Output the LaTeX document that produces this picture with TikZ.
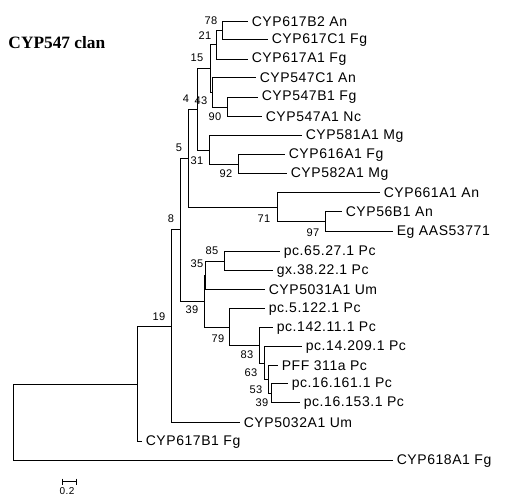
\documentclass[tikz,border=0pt]{standalone}
\usepackage{fontspec}
\setmainfont{Liberation Sans}
\newfontfamily\titlefont{Liberation Serif}
\newfontfamily\leaffam[LetterSpace=4]{Liberation Sans}
\begin{document}
\begin{tikzpicture}[x=0.75pt,y=-0.75pt,line width=0.75pt,
  leaf/.style={anchor=west,inner sep=0pt,xshift=2.5pt,font={\leaffam\fontsize{10.5}{12}\selectfont}},
  boot/.style={inner sep=0pt,font={\leaffam\fontsize{8.3}{10}\selectfont}},
  branch/.style={draw=black,line width=0.75pt}]
\useasboundingbox (0,0) rectangle (508,502);
% title
\node[anchor=base west,inner sep=0pt,font={\titlefont\bfseries\fontsize{13}{15}\selectfont}] (title) at (8,49) {CYP547 clan};
% internal nodes
\coordinate (A) at (222,30.85);
\coordinate (B) at (216,45);
\coordinate (C) at (227,107.25);
\coordinate (D) at (212,92.6);
\coordinate (E) at (210,68.8);
\coordinate (I) at (238,164.5);
\coordinate (H) at (209,150.25);
\coordinate (F) at (197,109.5);
\coordinate (K) at (325,222);
\coordinate (J) at (277,207.5);
\coordinate (G) at (188,158.5);
\coordinate (Q) at (224,261.5);
\coordinate (R) at (205.5,275.75);
\coordinate (X) at (271,393.5);
\coordinate (W) at (268,379.75);
\coordinate (V) at (264,363.4);
\coordinate (U) at (259,345.7);
\coordinate (T) at (229,327.35);
\coordinate (O) at (204,301.55);
\coordinate (M) at (180,230);
\coordinate (N) at (171,326.5);
\coordinate (Y) at (137,384.25);
\coordinate (Z) at (13,422.6);
% leaf tips
\coordinate (l1) at (248,21.7);
\coordinate (l2) at (268,40);
\coordinate (l3) at (248,59.3);
\coordinate (l4) at (256,78);
\coordinate (l5) at (258,97.5);
\coordinate (l6) at (262,117);
\coordinate (l7) at (302,136);
\coordinate (l8) at (285,155);
\coordinate (l9) at (287,174);
\coordinate (l10) at (380,193);
\coordinate (l11) at (342,212);
\coordinate (l12) at (393,232);
\coordinate (l13) at (280,252);
\coordinate (l14) at (273,271);
\coordinate (l15) at (265,290);
\coordinate (l16) at (265,309);
\coordinate (l17) at (273,328);
\coordinate (l18) at (302,347);
\coordinate (l19) at (278,366);
\coordinate (l20) at (288,384);
\coordinate (l21) at (300,403);
\coordinate (l22) at (240,423);
\coordinate (l23) at (142,442);
\coordinate (l24) at (393,461);
% leaf labels
\node[leaf] (t1) at (l1) {CYP617B2 An};
\node[leaf] (t2) at (l2) {CYP617C1 Fg};
\node[leaf] (t3) at (l3) {CYP617A1 Fg};
\node[leaf] (t4) at (l4) {CYP547C1 An};
\node[leaf] (t5) at (l5) {CYP547B1 Fg};
\node[leaf] (t6) at (l6) {CYP547A1 Nc};
\node[leaf] (t7) at (l7) {CYP581A1 Mg};
\node[leaf] (t8) at (l8) {CYP616A1 Fg};
\node[leaf] (t9) at (l9) {CYP582A1 Mg};
\node[leaf] (t10) at (l10) {CYP661A1 An};
\node[leaf] (t11) at (l11) {CYP56B1 An};
\node[leaf] (t12) at (l12) {Eg AAS53771};
\node[leaf] (t13) at (l13) {pc.65.27.1 Pc};
\node[leaf] (t14) at (l14) {gx.38.22.1 Pc};
\node[leaf] (t15) at (l15) {CYP5031A1 Um};
\node[leaf] (t16) at (l16) {pc.5.122.1 Pc};
\node[leaf] (t17) at (l17) {pc.142.11.1 Pc};
\node[leaf] (t18) at (l18) {pc.14.209.1 Pc};
\node[leaf] (t19) at (l19) {PFF 311a Pc};
\node[leaf] (t20) at (l20) {pc.16.161.1 Pc};
\node[leaf] (t21) at (l21) {pc.16.153.1 Pc};
\node[leaf] (t22) at (l22) {CYP5032A1 Um};
\node[leaf] (t23) at (l23) {CYP617B1 Fg};
\node[leaf] (t24) at (l24) {CYP618A1 Fg};
% branches
\draw[branch] (A) |- (l1) (A) |- (l2);
\draw[branch] (B) |- (A) (B) |- (l3);
\draw[branch] (C) |- (l5) (C) |- (l6);
\draw[branch] (D) |- (l4) (D) |- (C);
\draw[branch] (E) |- (B) (E) |- (D);
\draw[branch] (I) |- (l8) (I) |- (l9);
\draw[branch] (H) |- (l7) (H) |- (I);
\draw[branch] (F) |- (E) (F) |- (H);
\draw[branch] (K) |- (l11) (K) |- (l12);
\draw[branch] (J) |- (l10) (J) |- (K);
\draw[branch] (G) |- (F) (G) |- (J);
\draw[branch] (Q) |- (l13) (Q) |- (l14);
\draw[branch] (R) |- (Q) (R) |- (l15);
\draw[branch] (X) |- (l20) (X) |- (l21);
\draw[branch] (W) |- (l19) (W) |- (X);
\draw[branch] (V) |- (l18) (V) |- (W);
\draw[branch] (U) |- (l17) (U) |- (V);
\draw[branch] (T) |- (l16) (T) |- (U);
\draw[branch] (O) |- (R) (O) |- (T);
\draw[branch] (M) |- (G) (M) |- (O);
\draw[branch] (N) |- (M) (N) |- (l22);
\draw[branch] (Y) |- (N) (Y) |- (l23);
\draw[branch] (Z) |- (Y) (Z) |- (l24);
% bootstrap values
\node[boot] (b78) at (211,21) {78};
\node[boot] (b21) at (205,36) {21};
\node[boot] (b15) at (197,58) {15};
\node[boot] (b4) at (186,99) {4};
\node[boot] (b43) at (201,101) {43};
\node[boot] (b90) at (215,117) {90};
\node[boot] (b5) at (179,148) {5};
\node[boot] (b31) at (197,161) {31};
\node[boot] (b92) at (226,174) {92};
\node[boot] (b71) at (264,219) {71};
\node[boot] (b97) at (313,233) {97};
\node[boot] (b8) at (171,219) {8};
\node[boot] (b85) at (212,251) {85};
\node[boot] (b35) at (197,264) {35};
\node[boot] (b39a) at (192,310) {39};
\node[boot] (b79) at (218,339) {79};
\node[boot] (b83) at (247,355) {83};
\node[boot] (b63) at (251,373) {63};
\node[boot] (b53) at (256,390) {53};
\node[boot] (b39b) at (262,403) {39};
\node[boot] (b19) at (159,317) {19};
% scale bar
\coordinate (s1) at (62,482);
\coordinate (s2) at (76,482);
\draw[branch] (s1) -- (s2);
\draw[branch] ([yshift=2.5pt]s1) -- ([yshift=-2.5pt]s1);
\draw[branch] ([yshift=2.5pt]s2) -- ([yshift=-2.5pt]s2);
\node[inner sep=0pt,font={\leaffam\fontsize{7.5}{9}\selectfont}] (sl) at (67,491) {0.2};
\end{tikzpicture}
\end{document}
